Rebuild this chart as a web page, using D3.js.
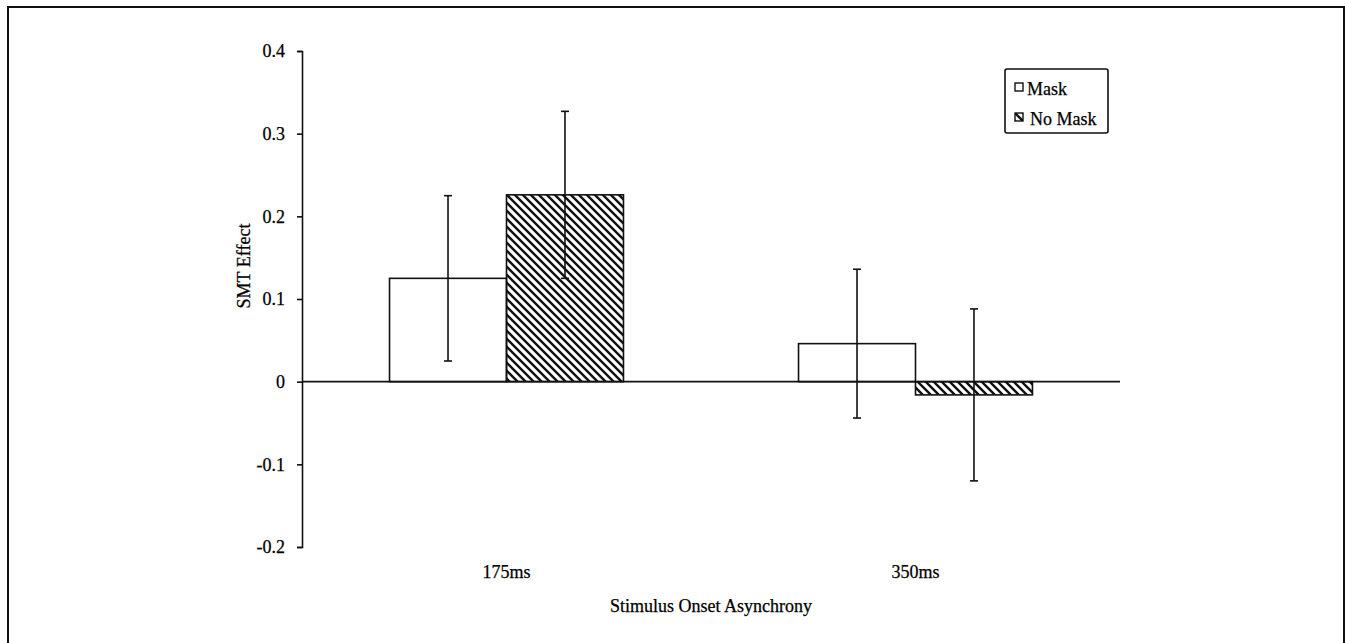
<!DOCTYPE html>
<html>
<head>
<meta charset="utf-8">
<title>SMT Effect by SOA</title>
<script src="https://d3js.org/d3.v7.min.js"></script>
<style>
    html, body { margin: 0; padding: 0; background: #fff; }
    svg text { font-family: "Liberation Serif", "Times New Roman", serif; fill: #000; stroke: #000; stroke-width: 0.25px; }
</style>
</head>
<body>
<div id="smt_chart"></div>
<script>

// chart values
var categories = ["175ms", "350ms"];
var series_names = ["Mask", "No Mask"];
var mask_values = [0.125, 0.046];
var mask_errors = [0.100, 0.090];
var nomask_values = [0.226, -0.016];
var nomask_errors = [0.101, 0.104];
var y_ticks = [-0.2, -0.1, 0, 0.1, 0.2, 0.3, 0.4];

(function () {

    "use strict";

    var width = 1345,
        height = 643,
        axis_x = 302,
        plot_right = 1120,
        font_size = 18;

    var svg = d3.select("#smt_chart")
        .append("svg")
            .attr("width", width)
            .attr("height", height);

    // hatch for the No Mask bars
    svg.append("defs")
        .append("pattern")
            .attr("id", "hatch")
            .attr("patternUnits", "userSpaceOnUse")
            .attr("width", 8)
            .attr("height", 8)
        .append("path")
            .attr("d", "M-2,-2L10,10M-2,6L2,10M6,-2L10,2")
            .attr("stroke", "#111")
            .attr("stroke-width", 2.4);

    // frame (left, top, right only)
    svg.append("path")
        .attr("d", "M8," + height + "V7H1344V" + height)
        .attr("fill", "none")
        .attr("stroke", "#111")
        .attr("stroke-width", 2);

    var y = d3.scaleLinear()
        .domain([-0.2, 0.4])
        .range([547, 51]);

    var x0 = d3.scaleBand()
        .domain(categories)
        .range([axis_x, plot_right])
        .paddingInner(0.428)
        .paddingOuter(0.214);

    var x1 = d3.scaleBand()
        .domain(series_names)
        .range([0, x0.bandwidth()]);

    var rows = [];
    categories.forEach(function (c, i) {
        rows.push({ cat: c, series: "Mask", value: mask_values[i], err: mask_errors[i] });
        rows.push({ cat: c, series: "No Mask", value: nomask_values[i], err: nomask_errors[i] });
    });

    // bars
    svg.append("g")
        .selectAll("rect")
        .data(rows)
        .join("rect")
            .attr("x", function (d) { return x0(d.cat) + x1(d.series); })
            .attr("y", function (d) { return y(Math.max(0, d.value)); })
            .attr("width", x1.bandwidth())
            .attr("height", function (d) { return Math.abs(y(d.value) - y(0)); })
            .attr("fill", function (d) { return d.series === "Mask" ? "#fff" : "url(#hatch)"; })
            .attr("stroke", "#111")
            .attr("stroke-width", 1.6);

    // y axis
    var y_axis = svg.append("g")
        .attr("transform", "translate(" + axis_x + ",0)")
        .call(d3.axisLeft(y)
            .tickValues(y_ticks)
            .tickSize(5)
            .tickPadding(12)
            .tickFormat(function (d) { return d === 0 ? "0" : d.toFixed(1); }));

    y_axis.select(".domain")
        .attr("stroke", "#111")
        .attr("stroke-width", 1.6);
    y_axis.selectAll(".tick line")
        .attr("stroke", "#111")
        .attr("stroke-width", 1.6);
    y_axis.selectAll(".tick text")
        .attr("font-size", font_size)
        .attr("font-family", "Liberation Serif")
        .attr("fill", "#000");

    // zero line
    svg.append("line")
        .attr("x1", axis_x)
        .attr("x2", plot_right)
        .attr("y1", y(0))
        .attr("y2", y(0))
        .attr("stroke", "#111")
        .attr("stroke-width", 1.6);

    // error bars
    var err = svg.append("g")
        .selectAll("g")
        .data(rows)
        .join("g")
            .attr("stroke", "#111")
            .attr("stroke-width", 1.6);

    function cx(d) { return x0(d.cat) + x1(d.series) + x1.bandwidth() / 2; }

    err.append("line")
        .attr("x1", cx).attr("x2", cx)
        .attr("y1", function (d) { return y(d.value + d.err); })
        .attr("y2", function (d) { return y(d.value - d.err); });
    err.append("line")
        .attr("x1", function (d) { return cx(d) - 4; })
        .attr("x2", function (d) { return cx(d) + 4; })
        .attr("y1", function (d) { return y(d.value + d.err); })
        .attr("y2", function (d) { return y(d.value + d.err); });
    err.append("line")
        .attr("x1", function (d) { return cx(d) - 4; })
        .attr("x2", function (d) { return cx(d) + 4; })
        .attr("y1", function (d) { return y(d.value - d.err); })
        .attr("y2", function (d) { return y(d.value - d.err); });

    // category labels
    svg.append("g")
        .selectAll("text")
        .data(categories)
        .join("text")
            .attr("x", function (d) { return x0(d) + x0.bandwidth() / 2; })
            .attr("y", 578)
            .attr("text-anchor", "middle")
            .attr("font-size", font_size)
            .text(function (d) { return d; });

    // axis titles
    svg.append("text")
        .attr("x", (axis_x + plot_right) / 2)
        .attr("y", 612)
        .attr("text-anchor", "middle")
        .attr("font-size", font_size)
        .text("Stimulus Onset Asynchrony");

    svg.append("text")
        .attr("transform", "translate(250,266) rotate(-90)")
        .attr("text-anchor", "middle")
        .attr("font-size", font_size)
        .text("SMT Effect");

    // legend
    var legend = svg.append("g")
        .attr("transform", "translate(1005,69)");

    legend.append("rect")
        .attr("width", 103)
        .attr("height", 64)
        .attr("rx", 2)
        .attr("fill", "#fff")
        .attr("stroke", "#111")
        .attr("stroke-width", 1.6);

    var items = legend.selectAll("g")
        .data(series_names)
        .join("g")
            .attr("transform", function (d, i) { return "translate(10," + (14 + i * 30) + ")"; });

    items.append("rect")
        .attr("width", 8)
        .attr("height", 8)
        .attr("fill", function (d) { return d === "Mask" ? "#fff" : "url(#hatch)"; })
        .attr("stroke", "#111")
        .attr("stroke-width", 1.4);

    items.append("text")
        .attr("x", function (d) { return d === "Mask" ? 12 : 15; })
        .attr("y", 12)
        .attr("font-size", font_size)
        .text(function (d) { return d; });

}());
</script>
</body>
</html>
